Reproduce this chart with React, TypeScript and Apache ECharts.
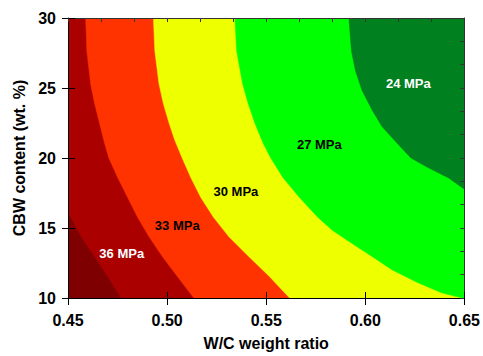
import React, { useEffect, useRef } from "react";
import * as echarts from "echarts";

// Axis ranges and ticks
const xRange = [0.45, 0.65];
const yRange = [10, 30];
const xTickStep = 0.05;
const yTickStep = 5;

// Contour boundaries (W/C ratio, CBW %).
// Each separates a stronger region (left) from a weaker one (right).
const boundary36 = [
  [0.45, 16.13], [0.4535, 15.2], [0.4567, 14.37], [0.4634, 12.96],
  [0.47, 11.55], [0.4767, 10.0],
];
const boundary33 = [
  [0.4589, 30], [0.4595, 27.65], [0.4614, 25.3], [0.4634, 23.9],
  [0.4659, 22.49], [0.4684, 21.08], [0.4706, 20.0], [0.4751, 18.59],
  [0.4801, 17.18], [0.4851, 15.77], [0.4909, 14.37], [0.4976, 12.96],
  [0.5051, 11.55], [0.5135, 10],
];
const boundary30 = [
  [0.4931, 30], [0.4938, 27.65], [0.4959, 25.3], [0.4981, 23.9],
  [0.501, 22.49], [0.5038, 21.3], [0.5076, 20.0], [0.512, 18.59],
  [0.517, 17.18], [0.5234, 15.77], [0.5312, 14.37], [0.5412, 12.96],
  [0.5515, 11.55], [0.5618, 10],
];
const boundary27 = [
  [0.5342, 30], [0.5351, 27.65], [0.5381, 25.3], [0.5409, 23.9],
  [0.5443, 22.49], [0.5484, 21.08], [0.5523, 20.0], [0.5585, 18.59],
  [0.5668, 17.18], [0.576, 15.77], [0.5833, 14.84], [0.5933, 13.9],
  [0.6034, 12.96], [0.6134, 12.02], [0.6268, 11.08], [0.6384, 10.38],
  [0.649, 10.0],
];
const boundary24 = [
  [0.5917, 30], [0.593, 27.65], [0.595, 26.24], [0.5983, 24.84],
  [0.6034, 23.43], [0.6084, 22.25], [0.6159, 21.08], [0.623, 20.0],
  [0.6318, 19.3], [0.6418, 18.59], [0.65, 17.77],
];

// Contour labels
const labelTexts = ["36 MPa", "33 MPa", "30 MPa", "27 MPa", "24 MPa"];
const labelPositions = [
  [0.4771, 13.19], [0.5051, 15.19], [0.5347, 17.58], [0.5768, 21.0], [0.6217, 25.35],
];

const regionColors = ["#7f0000", "#aa0000", "#ff3300", "#eeff00", "#00ff00", "#00801f"];
const labelColors = ["#ffffff", "#000000", "#000000", "#000000", "#ffffff"];
const FONT = "Liberation Sans, Arial, sans-serif";

function regionPolygon(boundary: number[][]) {
  const pts = boundary.map((p) => [p[0], p[1]]);
  const last = pts[pts.length - 1];
  const first = pts[0];
  if (last[1] === yRange[0]) pts.push([xRange[1], yRange[0]]);
  pts.push([xRange[1], yRange[1]]);
  if (first[0] === xRange[0]) pts.push([xRange[0], yRange[1]]);
  return pts;
}

export default function App() {
  const ref = useRef<HTMLDivElement>(null);
  useEffect(() => {
    const chart = echarts.init(ref.current!, null, { renderer: "svg" });
    const layers = [
      [
        [xRange[0], yRange[0]], [xRange[1], yRange[0]],
        [xRange[1], yRange[1]], [xRange[0], yRange[1]],
      ],
      regionPolygon(boundary36),
      regionPolygon(boundary33),
      regionPolygon(boundary30),
      regionPolygon(boundary27),
      regionPolygon(boundary24),
    ];
    const axisFont = { fontFamily: FONT, fontWeight: "bold" as const, fontSize: 16, color: "#000" };
    const option: any = {
      animation: false,
      grid: { left: 68, right: 16, top: 18, bottom: 54 },
      xAxis: [
        {
          type: "value", min: xRange[0], max: xRange[1], interval: xTickStep,
          position: "bottom", z: 10,
          axisLine: { show: true, onZero: false, lineStyle: { color: "#000", width: 1 } },
          axisTick: { show: true, inside: false, length: 7, lineStyle: { color: "#000" } },
          axisLabel: { ...axisFont, margin: 14, formatter: (v: number) => v.toFixed(2) },
          splitLine: { show: false },
          name: "W/C weight ratio", nameLocation: "middle", nameGap: 37,
          nameTextStyle: axisFont,
        },
        {
          type: "value", min: xRange[0], max: xRange[1], interval: xTickStep,
          position: "bottom", z: 10,
          axisLine: { show: false, onZero: false },
          axisTick: { show: true, inside: true, length: 6, lineStyle: { color: "#000" } },
          axisLabel: { show: false }, splitLine: { show: false },
        },
        {
          type: "value", min: xRange[0], max: xRange[1], interval: xTickStep / 3,
          position: "top", z: 10,
          axisLine: { show: true, onZero: false, lineStyle: { color: "#333", width: 1 } },
          axisTick: { show: true, inside: true, length: 4, lineStyle: { color: "#333" } },
          axisLabel: { show: false }, splitLine: { show: false },
        },
      ],
      yAxis: [
        {
          type: "value", min: yRange[0], max: yRange[1], interval: yTickStep,
          position: "left", z: 10,
          axisLine: { show: true, onZero: false, lineStyle: { color: "#000", width: 1 } },
          axisTick: { show: true, inside: false, length: 6, lineStyle: { color: "#000" } },
          axisLabel: { ...axisFont, margin: 12 },
          splitLine: { show: false },
          name: "CBW content (wt. %)", nameLocation: "middle", nameGap: 38,
          nameRotate: 90, nameTextStyle: axisFont,
        },
        {
          type: "value", min: yRange[0], max: yRange[1], interval: yTickStep,
          position: "left", z: 10,
          axisLine: { show: false, onZero: false },
          axisTick: { show: true, inside: true, length: 7, lineStyle: { color: "#000" } },
          axisLabel: { show: false }, splitLine: { show: false },
        },
        {
          type: "value", min: yRange[0], max: yRange[1], interval: (yRange[1] - yRange[0]) / 12,
          position: "right", z: 10,
          axisLine: { show: true, onZero: false, lineStyle: { color: "#333", width: 1 } },
          axisTick: { show: true, inside: true, length: 4, lineStyle: { color: "#333" } },
          axisLabel: { show: false }, splitLine: { show: false },
        },
      ],
      series: [
        ...layers.map((pts, i) => ({
          type: "custom",
          coordinateSystem: "cartesian2d",
          xAxisIndex: 0, yAxisIndex: 0,
          silent: true, clip: true, z: 1 + i * 0.01,
          data: [[xRange[0], yRange[0]]],
          renderItem: (_params: any, api: any) => ({
            type: "polygon",
            shape: { points: pts.map((p) => api.coord(p)) },
            style: { fill: regionColors[i], stroke: regionColors[i], lineWidth: 0.5 },
          }),
        })),
        {
          type: "custom",
          coordinateSystem: "cartesian2d",
          xAxisIndex: 0, yAxisIndex: 0,
          silent: true, z: 5,
          data: labelPositions,
          renderItem: (params: any, api: any) => {
            const c = api.coord([api.value(0), api.value(1)]);
            return {
              type: "text",
              x: c[0], y: c[1],
              style: {
                text: labelTexts[params.dataIndex],
                fill: labelColors[params.dataIndex],
                font: `bold 13px ${FONT}`,
                align: "center", verticalAlign: "middle",
              },
            };
          },
        },
      ],
    };
    chart.setOption(option);
    return () => chart.dispose();
  }, []);
  return (
    <div
      ref={ref}
      style={{ position: "fixed", left: 0, top: 0, width: 483, height: 356, background: "#fff" }}
    />
  );
}
